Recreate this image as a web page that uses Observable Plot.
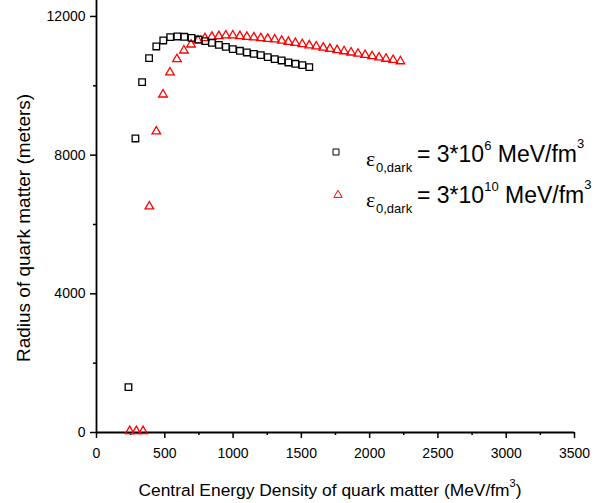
<!DOCTYPE html>
<html><head><meta charset="utf-8">
<script src="https://cdn.jsdelivr.net/npm/d3@7"></script>
<script src="https://cdn.jsdelivr.net/npm/@observablehq/plot@0.6"></script>
<style>body{margin:0;background:#fff}#chart{position:relative;width:613px;height:503px}</style>
</head><body><div id="chart"></div>
<script>
// Series 1: eps_0,dark = 3*10^6 MeV/fm^3 (black squares)
const squareX = [234, 285, 334, 385, 438, 489, 540, 592, 643, 696, 747, 796, 845, 896, 947, 998, 1050, 1101, 1152, 1203, 1254, 1305, 1356, 1405, 1456, 1507, 1558];
const squareY = [1307, 8480, 10104, 10797, 11134, 11307, 11403, 11422, 11413, 11384, 11335, 11287, 11240, 11182, 11124, 11057, 11010, 10961, 10922, 10884, 10826, 10768, 10730, 10672, 10635, 10594, 10537];
// Series 2: eps_0,dark = 3*10^10 MeV/fm^3 (red triangles)
const triX = [243, 292, 341, 387, 438, 487, 538, 589, 640, 692, 743, 794, 845, 896, 947, 998, 1050, 1101, 1152, 1203, 1254, 1305, 1356, 1405, 1456, 1507, 1558, 1609, 1660, 1709, 1762, 1813, 1864, 1915, 1967, 2018, 2069, 2120, 2172, 2225];
const triY = [40, 40, 40, 6519, 8682, 9749, 10384, 10768, 11018, 11191, 11307, 11374, 11413, 11432, 11451, 11451, 11432, 11413, 11395, 11374, 11355, 11336, 11300, 11268, 11236, 11200, 11168, 11134, 11100, 11065, 11030, 10996, 10960, 10925, 10890, 10853, 10817, 10780, 10745, 10708];

const xTicks = [0, 500, 1000, 1500, 2000, 2500, 3000, 3500];
const xMinorTicks = [250, 750, 1250, 1750, 2250, 2750, 3250];
const yTicks = [0, 4000, 8000, 12000];
const yMinorTicks = [2000, 6000, 10000];

const xTitle = "Central Energy Density of quark matter (MeV/fm";
const xTitleExp = "3";
const yTitle = "Radius of quark matter (meters)";
const legendSub = ["0,dark", "0,dark"];
const legendBase = ["= 3*10", "= 3*10"];
const legendExp = ["6", "10"];
const legendUnit = ["MeV/fm", "MeV/fm"];
const legendColors = ["#000000", "#ff0000"];
const legendSymbols = ["square", "triangle"];

const squares = squareX.map((x, i) => ({x, y: squareY[i]}));
const triangles = triX.map((x, i) => ({x, y: triY[i]}));

const W = 613, H = 503, ML = 96, MR = 39, MT = 0, MB = 71;
const font = "'Liberation Sans', Arial, sans-serif";

const plot = Plot.plot({
  width: W, height: H,
  marginLeft: ML, marginRight: MR, marginTop: MT, marginBottom: MB,
  x: {domain: [0, 3500]},
  y: {domain: [0, 12460]},
  style: {fontFamily: font, fontSize: "14px", color: "#000", background: "#fff", overflow: "visible"},
  marks: [
    Plot.axisX({ticks: xMinorTicks, tickSize: 3, tickFormat: () => "", label: null, strokeWidth: 1.5}),
    Plot.axisY({ticks: yMinorTicks, tickSize: 3, tickFormat: () => "", label: null, strokeWidth: 1.5}),
    Plot.axisX({ticks: xTicks, tickSize: 6, tickPadding: 10, tickFormat: d => String(d), label: null, strokeWidth: 1.5, fontSize: 14}),
    Plot.axisY({ticks: yTicks, tickSize: 6, tickPadding: 5, tickFormat: d => String(d), label: null, strokeWidth: 1.5, fontSize: 14}),
    Plot.ruleY([0], {stroke: "#000", strokeWidth: 1.8}),
    Plot.ruleX([0], {stroke: "#000", strokeWidth: 1.8}),
    Plot.dot(triangles, {x: "x", y: "y", symbol: "triangle", r: 3.2, stroke: "#ff0000", strokeWidth: 1.3, fill: "none"}),
    Plot.dot(squares, {x: "x", y: "y", symbol: "square", r: 3.7, stroke: "#000", strokeWidth: 1.3, fill: "none"})
  ]
});
document.getElementById("chart").appendChild(plot);

const svg = d3.select(plot);
// axis titles
const xt = svg.append("text").attr("x", 330).attr("y", 496).attr("text-anchor", "middle")
  .attr("font-family", font).attr("font-size", 17.4).attr("fill", "#000");
xt.append("tspan").text(xTitle);
xt.append("tspan").attr("font-size", 11).attr("dy", -9).text(xTitleExp);
xt.append("tspan").attr("dy", 9).text(")");

svg.append("text").attr("transform", "translate(30,228) rotate(-90)").attr("text-anchor", "middle")
  .attr("font-family", font).attr("font-size", 19).attr("fill", "#000").text(yTitle);

// legend
const baselines = [162, 203];
legendSymbols.forEach((s, i) => {
  const b = baselines[i];
  const sym = s === "square" ? d3.symbolSquare : d3.symbolTriangle;
  const size = s === "square" ? 36 : 30;
  svg.append("path").attr("d", d3.symbol(sym, size)())
    .attr("transform", `translate(${s === "square" ? 336 : 338},${b - (s === "square" ? 10 : 8)})`)
    .attr("fill", "none").attr("stroke", legendColors[i]).attr("stroke-width", 1);
  svg.append("text").attr("x", 366).attr("y", b + 4).attr("text-anchor", "start").attr("font-family", "'Liberation Serif', serif")
    .attr("font-size", 22).attr("fill", "#000").text("ε");
  svg.append("text").attr("x", 376).attr("y", b + 10).attr("text-anchor", "start").attr("font-family", font)
    .attr("font-size", 13).attr("fill", "#000").text(legendSub[i]);
  const t = svg.append("text").attr("x", 417).attr("y", b).attr("text-anchor", "start").attr("font-family", font)
    .attr("font-size", 23).attr("fill", "#000");
  t.append("tspan").text(legendBase[i]);
  t.append("tspan").attr("font-size", 13).attr("dy", -12).text(legendExp[i]);
  t.append("tspan").attr("dy", 12).text(" " + legendUnit[i]);
  t.append("tspan").attr("font-size", 13).attr("dy", -14).text("3");
});
</script></body></html>
